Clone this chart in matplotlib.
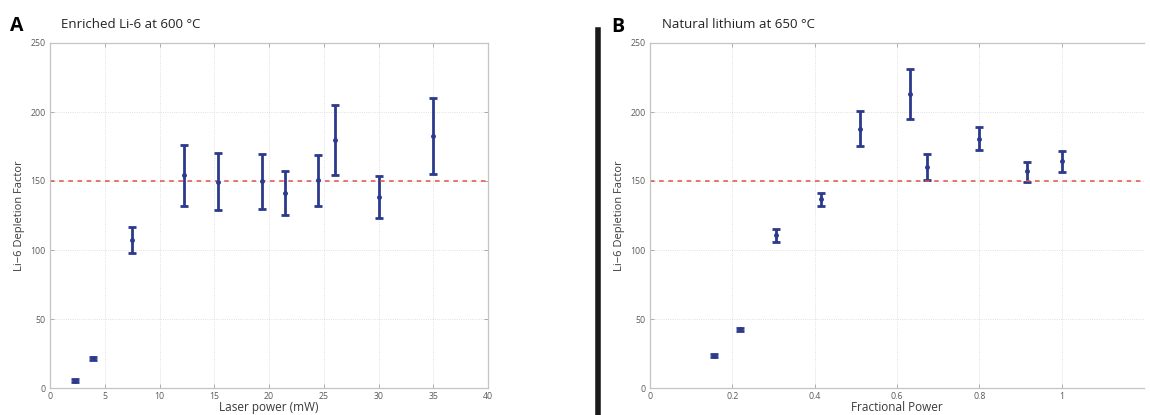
import matplotlib.pyplot as plt
import numpy as np

plt.rcParams['font.family'] = ['Open Sans', 'DejaVu Sans']

# panel A: enriched Li-6 at 600 C
power_mw = [2.3, 3.9, 7.5, 12.2, 15.3, 19.4, 21.5, 24.5, 26.0, 30.0, 35.0]
depl_a = [5.3, 21.5, 107, 154, 149.5, 150, 141.5, 150.4, 179.6, 138.4, 182.6]
upper_a = [6.3, 22.5, 117, 176, 170, 169.5, 157, 169, 205, 153.6, 210.4]
lower_a = [4.3, 20.5, 97.5, 132, 129, 130, 125, 132, 154, 123, 155]

# panel B: natural lithium at 650 C
frac_power = [0.155, 0.218, 0.307, 0.416, 0.511, 0.632, 0.674, 0.799, 0.917, 1.0]
depl_b = [23.5, 42.4, 110.6, 136.6, 188, 212.7, 159.9, 180.2, 157, 164.3]
upper_b = [24.5, 43.4, 115.5, 141.5, 201, 231.5, 169.3, 188.8, 163.9, 171.7]
lower_b = [22.5, 41.4, 106, 132, 175, 194.8, 150.6, 172.2, 149, 156.7]

ref_level = 150

W, H = 1150, 415
fig = plt.figure(figsize=(W / 100, H / 100), dpi=100)

bar_col = '#2b3a8c'
grid_col = '#d6d6d6'


def style_axes(ax):
    for s in ax.spines.values():
        s.set_color('#c4c4c4')
        s.set_linewidth(0.9)
    ax.tick_params(direction='in', length=3, width=0.6, color='#a0a0a0',
                   labelsize=6.3, labelcolor='#5a5a5a', pad=3,
                   top=True, right=True)
    ax.grid(True, color=grid_col, linestyle=':', linewidth=0.6)
    ax.set_axisbelow(True)


def draw_panel(ax, x, y, lo, hi, xlim, xticks, xlabel):
    y = np.array(y)
    yerr = [y - np.array(lo), np.array(hi) - y]
    ax.errorbar(x, y, yerr=yerr, fmt='o', ms=2.5, color=bar_col,
                ecolor=bar_col, elinewidth=2, capsize=2.8, capthick=2)
    ax.axhline(ref_level, color='#e0504a', linestyle=(0, (3, 3)), linewidth=1.1)
    ax.set_xlim(*xlim)
    ax.set_ylim(0, 250)
    ax.set_xticks(xticks)
    ax.set_yticks([0, 50, 100, 150, 200, 250])
    ax.set_xlabel(xlabel, fontsize=8.5, color='#3a3a3a', labelpad=0)
    ax.set_ylabel('Li\u22126 Depletion Factor', fontsize=8, color='#3a3a3a', labelpad=4)
    style_axes(ax)


bottom = (H - 388) / H
top = (H - 43) / H

ax_a = fig.add_axes([50 / W, bottom, 438 / W, top - bottom])
draw_panel(ax_a, power_mw, depl_a, lower_a, upper_a, (0, 40),
           [0, 5, 10, 15, 20, 25, 30, 35, 40], 'Laser power (mW)')

ax_b = fig.add_axes([650 / W, bottom, 494 / W, top - bottom])
draw_panel(ax_b, frac_power, depl_b, lower_b, upper_b, (0, 1.2),
           [0, 0.2, 0.4, 0.6, 0.8, 1], 'Fractional Power')
ax_b.set_xticklabels(['0', '0.2', '0.4', '0.6', '0.8', '1'])
ax_b.spines['right'].set_visible(False)
ax_b.tick_params(right=False)

# divider bar between panels
fig.add_artist(plt.Line2D([598 / W, 598 / W], [0, (H - 30) / H],
                          color='#1a1a1a', linewidth=4, transform=fig.transFigure))

fig.text(10 / W, (H - 26) / H, 'A', fontsize=14, fontweight='bold', va='center')
fig.text(61 / W, (H - 25) / H, 'Enriched Li-6 at 600 \u00b0C', fontsize=9.5,
         color='#222222', va='center')
fig.text(611 / W, (H - 27) / H, 'B', fontsize=14, fontweight='bold', va='center')
fig.text(662 / W, (H - 25) / H, 'Natural lithium at 650 \u00b0C', fontsize=9.5,
         color='#222222', va='center')

fig.savefig('out.png', dpi=100)
